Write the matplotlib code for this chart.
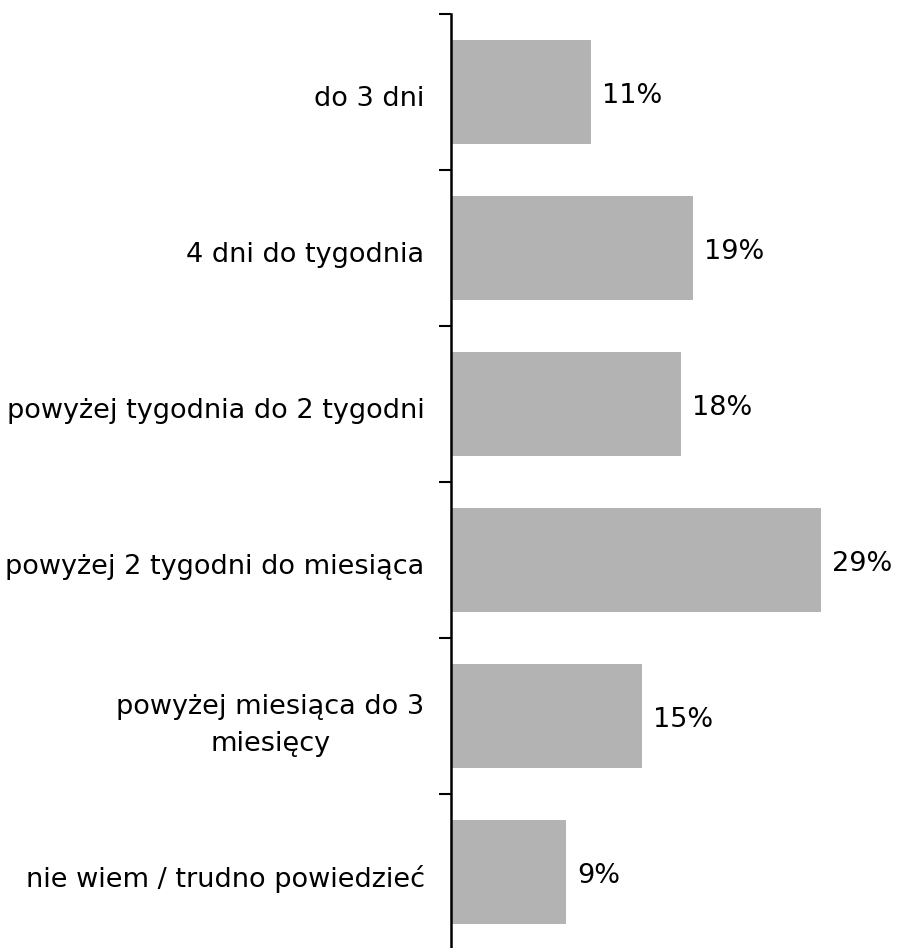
import matplotlib
matplotlib.use("Agg")
import matplotlib.pyplot as plt
import matplotlib.transforms as mtransforms
import numpy as np

categories = [
    "do 3 dni",
    "4 dni do tygodnia",
    "powyżej tygodnia do 2 tygodni",
    "powyżej 2 tygodni do miesiąca",
    "powyżej miesiąca do 3\nmiesięcy",
    "nie wiem / trudno powiedzieć",
]
values = [11, 19, 18, 29, 15, 9]
value_labels = ["11%", "19%", "18%", "29%", "15%", "9%"]

plt.rcParams['font.family'] = ['DejaVu Sans']
FS = 19.5

W, H = 898, 948
fig = plt.figure(figsize=(W / 100, H / 100), dpi=100)
left_px, top_px, bottom_px = 451, 14, 950
ax = fig.add_axes([left_px / W, (H - bottom_px) / H, 1 - left_px / W, (bottom_px - top_px) / H])

y = np.arange(len(categories))
ax.barh(y, values, height=0.67, color="#b3b3b3", zorder=1)

px_per_pct = 12.75
ax.set_xlim(0, (W - left_px) / px_per_pct)
ax.set_ylim(len(categories) - 0.5, -0.5)

for yi, v, lab in zip(y, values, value_labels):
    ax.annotate(lab, xy=(v, yi), xytext=(8, -3), textcoords="offset points",
                ha="left", va="center", fontsize=FS, color="black")

ax.set_yticks(y)
ax.set_yticklabels(categories, fontsize=FS, multialignment="center", linespacing=1.55)
ax.tick_params(axis="y", which="major", length=0, pad=19)
for t in ax.get_yticklabels():
    dy = -1 / 72 if "\n" in t.get_text() else -3 / 72
    shift = mtransforms.ScaledTranslation(0, dy, fig.dpi_scale_trans)
    t.set_transform(t.get_transform() + shift)
ax.set_yticks(np.arange(-0.5, len(categories) + 0.5, 1), minor=True)
ax.tick_params(axis="y", which="minor", length=8.5, width=1.5, direction="out", color="black")

ax.set_xticks([])
for s in ["top", "right", "bottom"]:
    ax.spines[s].set_visible(False)
ax.spines["left"].set_linewidth(1.8)
ax.spines["left"].set_zorder(3)

fig.savefig("out.png", dpi=100)
